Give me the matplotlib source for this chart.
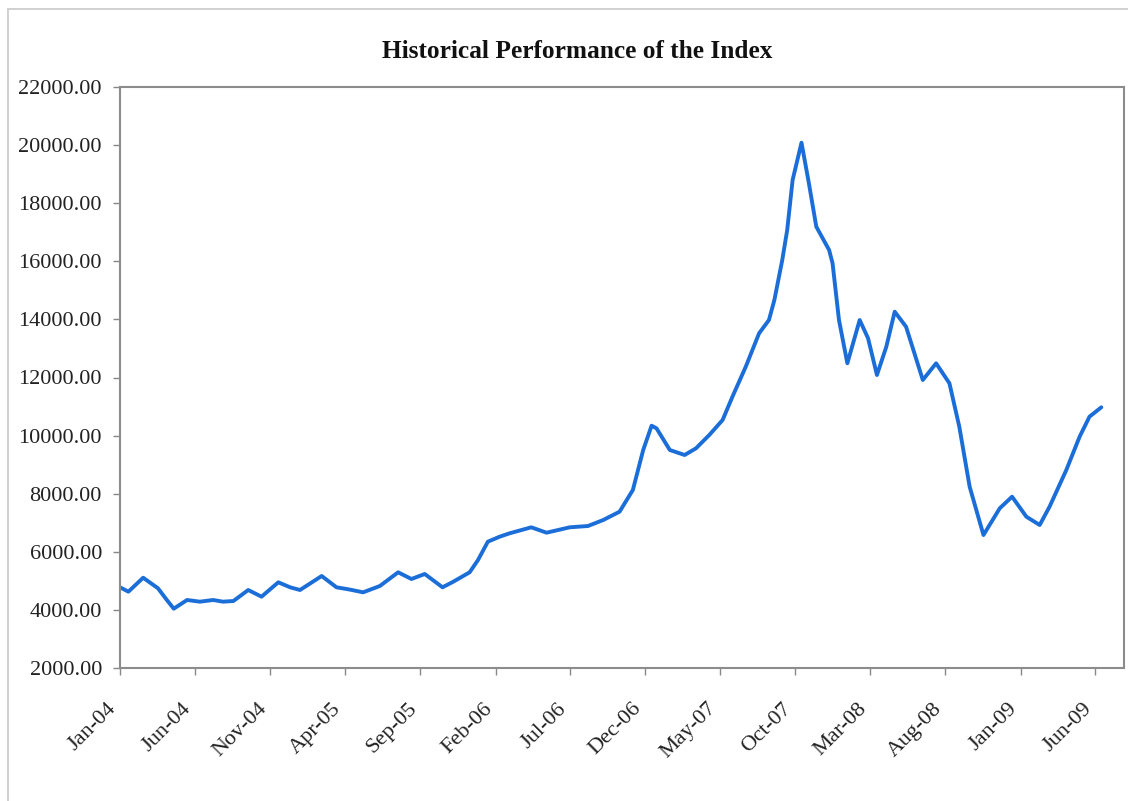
import numpy as np
import pandas as pd
import matplotlib
matplotlib.use("Agg")
import matplotlib.pyplot as plt
import matplotlib.dates as mdates
import matplotlib.transforms as mtransforms
from matplotlib.patches import Rectangle
from matplotlib.ticker import FormatStrFormatter

# values
dates = ["2004-01-01", "2004-01-18", "2004-02-17", "2004-03-18", "2004-04-05",
         "2004-04-19", "2004-05-16", "2004-06-11", "2004-07-08", "2004-07-28",
         "2004-08-18", "2004-09-17", "2004-10-14", "2004-11-17", "2004-12-11",
         "2004-12-31", "2005-02-13", "2005-03-15", "2005-04-11", "2005-05-08",
         "2005-06-11", "2005-07-18", "2005-08-14", "2005-09-10", "2005-10-16",
         "2005-11-07", "2005-12-10", "2005-12-27", "2006-01-16", "2006-02-09",
         "2006-03-01", "2006-04-14", "2006-05-15", "2006-07-01", "2006-08-07",
         "2006-09-07", "2006-10-10", "2006-11-06", "2006-11-27", "2006-12-14",
         "2006-12-24", "2007-01-20", "2007-02-19", "2007-03-14", "2007-04-10",
         "2007-05-07", "2007-05-27", "2007-06-23", "2007-07-20", "2007-08-09",
         "2007-08-20", "2007-09-05", "2007-09-15", "2007-09-26", "2007-10-14",
         "2007-10-29", "2007-11-13", "2007-12-09", "2007-12-16", "2007-12-29",
         "2008-01-15", "2008-02-09", "2008-02-26", "2008-03-15", "2008-04-03",
         "2008-04-20", "2008-05-13", "2008-05-30", "2008-06-16", "2008-07-13",
         "2008-08-09", "2008-08-29", "2008-09-19", "2008-10-17", "2008-11-19",
         "2008-12-14", "2009-01-12", "2009-02-08", "2009-02-28", "2009-04-03",
         "2009-04-30", "2009-05-20", "2009-06-13"]
index_values = [4778, 4627, 5108, 4744, 4341,
                4042, 4341, 4283, 4341, 4283,
                4306, 4685, 4455, 4950, 4778,
                4685, 5167, 4778, 4700, 4605,
                4823, 5294, 5064, 5236, 4778,
                4972, 5294, 5718, 6349, 6521,
                6636, 6843, 6658, 6843, 6888,
                7095, 7380, 8127, 9504, 10341,
                10250, 9504, 9332, 9562, 10021,
                10537, 11340, 12373, 13521, 13979,
                14668, 16045, 17077, 18799, 20083,
                18685, 17192, 16389, 15931, 13979,
                12489, 13979, 13349, 12086, 13060,
                14265, 13749, 12833, 11914, 12489,
                11800, 10307, 8241, 6578, 7497,
                7897, 7208, 6923, 7552, 8816,
                9962, 10651, 10974]

tick_dates = pd.date_range("2004-01-01", "2009-06-01", freq="5MS")
y_ticks = np.arange(2000, 22001, 2000)

x = pd.to_datetime(dates)

plt.rcParams['font.family'] = ['Liberation Serif', 'DejaVu Serif']

fig = plt.figure(figsize=(11.28, 8.01), dpi=100)
fig.patches.append(Rectangle((8 / 1128, -0.05), 1.2, 1 - 9 / 801 + 0.05,
                             transform=fig.transFigure, fill=False,
                             edgecolor='#c8c8c8', linewidth=1.2))

ax = fig.add_axes([120 / 1128, 1 - 668 / 801, (1124 - 120) / 1128, (668 - 87) / 801])
ax.plot(x, index_values, color='#1b6ed8', linewidth=2.8,
        solid_joinstyle='round', solid_capstyle='round')

ax.set_ylim(2000, 22000)
ax.set_yticks(y_ticks)
ax.yaxis.set_major_formatter(FormatStrFormatter('%.2f'))
ax.set_xlim(pd.Timestamp("2004-01-01"), pd.Timestamp("2009-07-29"))
ax.set_xticks(tick_dates)
ax.xaxis.set_major_formatter(mdates.DateFormatter('%b-%y'))

ax.tick_params(axis='both', labelsize=16, colors='#222222', length=5,
               width=1, direction='out')
ax.tick_params(axis='x', pad=6, color='#888888')
ax.tick_params(axis='y', pad=8, color='#888888')

# shift the slanted month labels down and left like the original
shift = mtransforms.ScaledTranslation(-13 / 100, -16 / 100, fig.dpi_scale_trans)
for lab in ax.get_xticklabels():
    lab.set_rotation(45)
    lab.set_ha('right')
    lab.set_rotation_mode('anchor')
    lab.set_transform(lab.get_transform() + shift)

for s in ax.spines.values():
    s.set_color('#8c8c8c')
    s.set_linewidth(1.5)

fig.text(0.512, 1 - 58 / 801, 'Historical Performance of the Index', ha='center',
         va='baseline', fontsize=18.3, fontweight='bold', color='#111111')

fig.savefig('out.png', dpi=100)
